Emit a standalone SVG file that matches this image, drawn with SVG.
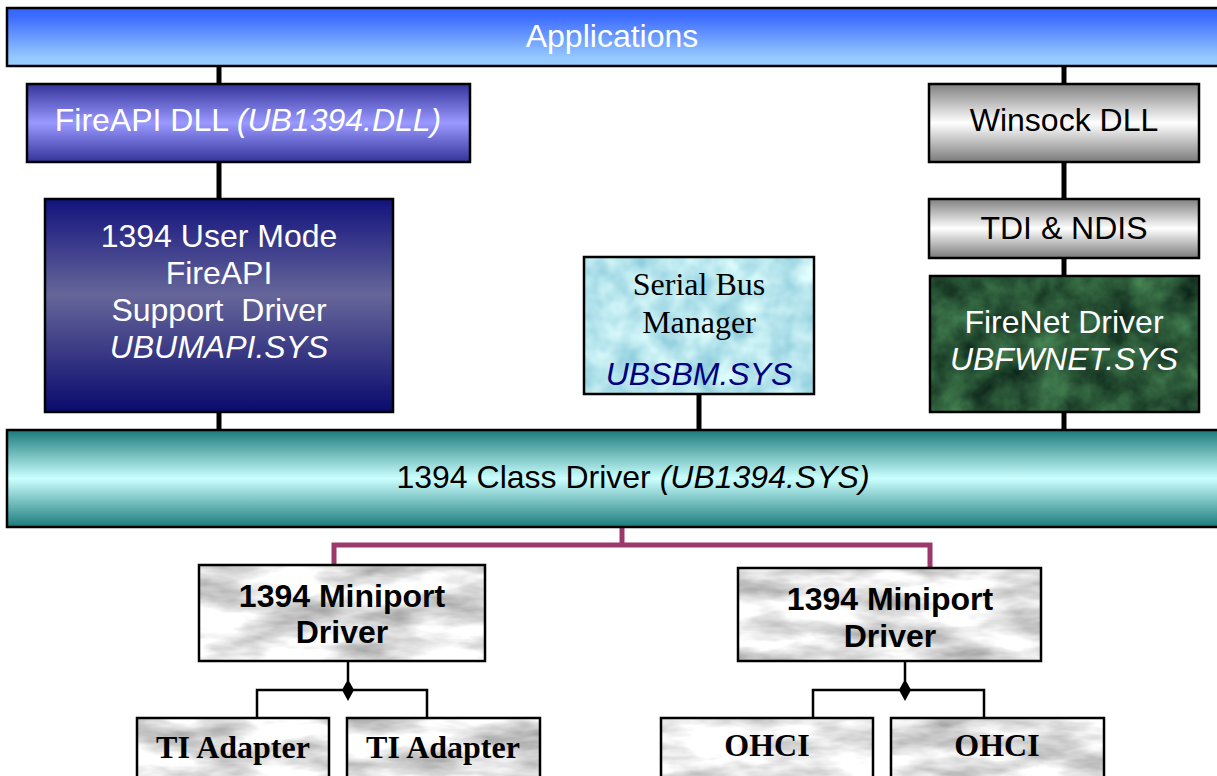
<svg xmlns="http://www.w3.org/2000/svg" width="1217" height="776" viewBox="0 0 1217 776">
  <style>
    .box { stroke: #000; stroke-width: 2.5; }
    .lbl { font-family: "Liberation Sans", Arial, sans-serif; font-size: 32px; text-anchor: middle; }
    .serif { font-family: "Liberation Serif", "Times New Roman", serif; font-size: 32px; text-anchor: middle; }
    .bold { font-weight: bold; }
    .it { font-style: italic; }
    .white { fill: #fff; }
    .bus { fill: none; stroke: #000; stroke-width: 5; }
    .bus2 { fill: none; stroke: #9b3a6a; stroke-width: 5; }
    .thin { fill: none; stroke: #000; stroke-width: 2.5; }
  </style>
  <defs>
    <linearGradient id="gApps" x1="0" y1="0" x2="0" y2="1">
      <stop offset="0" stop-color="#3366ff"/>
      <stop offset="0.15" stop-color="#3d6cfe"/>
      <stop offset="0.85" stop-color="#95c8ff"/>
      <stop offset="1" stop-color="#99ccff"/>
    </linearGradient>
    <linearGradient id="gFireApi" x1="0" y1="0" x2="0" y2="1">
      <stop offset="0" stop-color="#333399"/>
      <stop offset="0.5" stop-color="#9999ff"/>
      <stop offset="1" stop-color="#333399"/>
    </linearGradient>
    <linearGradient id="gGray" x1="0" y1="0" x2="0" y2="1">
      <stop offset="0" stop-color="#808080"/>
      <stop offset="0.5" stop-color="#ffffff"/>
      <stop offset="1" stop-color="#7a7a7a"/>
    </linearGradient>
    <linearGradient id="gUser" x1="0" y1="0" x2="0" y2="1">
      <stop offset="0" stop-color="#12127e"/>
      <stop offset="0.45" stop-color="#66669a"/>
      <stop offset="1" stop-color="#0a0a6e"/>
    </linearGradient>
    <linearGradient id="gClass" x1="0" y1="0" x2="0" y2="1">
      <stop offset="0" stop-color="#1a7a7a"/>
      <stop offset="0.5" stop-color="#ccffff"/>
      <stop offset="1" stop-color="#1a7a7a"/>
    </linearGradient>
    <!-- light grey marble -->
    <filter id="marble" x="0" y="0" width="1" height="1" color-interpolation-filters="sRGB">
      <feTurbulence type="fractalNoise" baseFrequency="0.012 0.04" numOctaves="4" seed="7" result="n"/>
      <feColorMatrix in="n" type="matrix" values="0.75 0 0 0 0.52  0.75 0 0 0 0.52  0.75 0 0 0 0.52  0 0 0 0 1" result="c"/>
      <feComposite in="c" in2="SourceGraphic" operator="in"/>
    </filter>
    <!-- pale aqua ripples -->
    <filter id="water" x="0" y="0" width="1" height="1" color-interpolation-filters="sRGB">
      <feTurbulence type="fractalNoise" baseFrequency="0.035" numOctaves="3" seed="4" result="n"/>
      <feColorMatrix in="n" type="matrix" values="0.5 0 0 0 0.47  0.3 0 0 0 0.75  0.2 0 0 0 0.83  0 0 0 0 1" result="c"/>
      <feComposite in="c" in2="SourceGraphic" operator="in"/>
    </filter>
    <!-- dark green stone -->
    <filter id="moss" x="0" y="0" width="1" height="1" color-interpolation-filters="sRGB">
      <feTurbulence type="fractalNoise" baseFrequency="0.03" numOctaves="4" seed="11" result="n"/>
      <feColorMatrix in="n" type="matrix" values="0.3 0 0 0 0.01  0.5 0 0 0 0.08  0.3 0 0 0 0.06  0 0 0 0 1" result="c"/>
      <feComposite in="c" in2="SourceGraphic" operator="in"/>
    </filter>
  </defs>

  <!-- connectors -->
  <g id="connectors">
    <line class="bus" x1="219" y1="66" x2="219" y2="84"/>
    <line class="bus" x1="219" y1="162" x2="219" y2="199"/>
    <line class="bus" x1="219" y1="412" x2="219" y2="430"/>
    <line class="bus" x1="1064" y1="66" x2="1064" y2="84"/>
    <line class="bus" x1="1064" y1="162" x2="1064" y2="199"/>
    <line class="bus" x1="1064" y1="258" x2="1064" y2="276"/>
    <line class="bus" x1="1064" y1="412" x2="1064" y2="430"/>
    <line class="bus" x1="699" y1="394" x2="699" y2="430"/>
    <polyline class="bus2" points="622,527 622,545"/>
    <polyline class="bus2" points="334,565 334,545 930,545 930,568"/>
    <!-- left miniport fan-out -->
    <line class="thin" x1="348" y1="661" x2="348" y2="681"/>
    <polyline class="thin" points="257,718 257,690 427,690 427,718"/>
    <polygon points="348,679 354,690 348,701 342,690" fill="#000"/>
    <!-- right miniport fan-out -->
    <line class="thin" x1="905" y1="661" x2="905" y2="681"/>
    <polyline class="thin" points="813,718 813,690 984,690 984,718"/>
    <polygon points="905,679 911,690 905,701 899,690" fill="#000"/>
  </g>

  <g id="applications">
    <rect class="box" x="7" y="8" width="1220" height="58" fill="url(#gApps)"/>
    <text class="lbl white" x="612" y="47">Applications</text>
  </g>

  <g id="fireapi-dll">
    <rect class="box" x="27" y="84" width="443" height="78" fill="url(#gFireApi)"/>
    <text class="lbl white" x="248" y="131">FireAPI DLL <tspan class="it">(UB1394.DLL)</tspan></text>
  </g>

  <g id="winsock-dll">
    <rect class="box" x="929" y="84" width="270" height="78" fill="url(#gGray)"/>
    <text class="lbl" x="1064" y="131">Winsock DLL</text>
  </g>

  <g id="tdi-ndis">
    <rect class="box" x="929" y="199" width="270" height="59" fill="url(#gGray)"/>
    <text class="lbl" x="1064" y="239">TDI &amp; NDIS</text>
  </g>

  <g id="user-mode-driver">
    <rect class="box" x="45" y="199" width="348" height="213" fill="url(#gUser)"/>
    <text class="lbl white" x="219" y="247">1394 User Mode</text>
    <text class="lbl white" x="219" y="284">FireAPI</text>
    <text class="lbl white" x="219" y="321" xml:space="preserve">Support  Driver</text>
    <text class="lbl white it" x="219" y="358">UBUMAPI.SYS</text>
  </g>

  <g id="serial-bus-manager">
    <rect x="584" y="257" width="230" height="137" fill="#b5e3ec" filter="url(#water)"/>
    <rect class="box" x="584" y="257" width="230" height="137" fill="none"/>
    <text class="serif" x="699" y="295">Serial Bus</text>
    <text class="serif" x="699" y="333">Manager</text>
    <text class="lbl it" x="699" y="385" fill="#000080">UBSBM.SYS</text>
  </g>

  <g id="firenet-driver">
    <rect x="930" y="276" width="269" height="136" fill="#2a5535" filter="url(#moss)"/>
    <rect class="box" x="930" y="276" width="269" height="136" fill="none"/>
    <text class="lbl white" x="1064" y="333">FireNet Driver</text>
    <text class="lbl white it" x="1064" y="370">UBFWNET.SYS</text>
  </g>

  <g id="class-driver">
    <rect class="box" x="7" y="430" width="1220" height="97" fill="url(#gClass)"/>
    <text class="lbl" x="633" y="488">1394 Class Driver <tspan class="it">(UB1394.SYS)</tspan></text>
  </g>

  <g id="miniport-left">
    <rect x="199" y="565" width="286" height="96" fill="#e0e0e0" filter="url(#marble)"/>
    <rect class="box" x="199" y="565" width="286" height="96" fill="none"/>
    <text class="lbl bold" x="342" y="607">1394 Miniport</text>
    <text class="lbl bold" x="342" y="643">Driver</text>
  </g>

  <g id="miniport-right">
    <rect x="738" y="568" width="303" height="93" fill="#e0e0e0" filter="url(#marble)"/>
    <rect class="box" x="738" y="568" width="303" height="93" fill="none"/>
    <text class="lbl bold" x="890" y="610">1394 Miniport</text>
    <text class="lbl bold" x="890" y="647">Driver</text>
  </g>

  <g id="ti-adapter-1">
    <rect x="137" y="718" width="192" height="70" fill="#e0e0e0" filter="url(#marble)"/>
    <rect class="box" x="137" y="718" width="192" height="70" fill="none"/>
    <text class="serif bold" x="233" y="758">TI Adapter</text>
  </g>

  <g id="ti-adapter-2">
    <rect x="347" y="718" width="193" height="70" fill="#e0e0e0" filter="url(#marble)"/>
    <rect class="box" x="347" y="718" width="193" height="70" fill="none"/>
    <text class="serif bold" x="443" y="758">TI Adapter</text>
  </g>

  <g id="ohci-1">
    <rect x="661" y="718" width="212" height="70" fill="#e0e0e0" filter="url(#marble)"/>
    <rect class="box" x="661" y="718" width="212" height="70" fill="none"/>
    <text class="serif bold" x="767" y="756">OHCI</text>
  </g>

  <g id="ohci-2">
    <rect x="891" y="718" width="213" height="70" fill="#e0e0e0" filter="url(#marble)"/>
    <rect class="box" x="891" y="718" width="213" height="70" fill="none"/>
    <text class="serif bold" x="997" y="756">OHCI</text>
  </g>
</svg>
